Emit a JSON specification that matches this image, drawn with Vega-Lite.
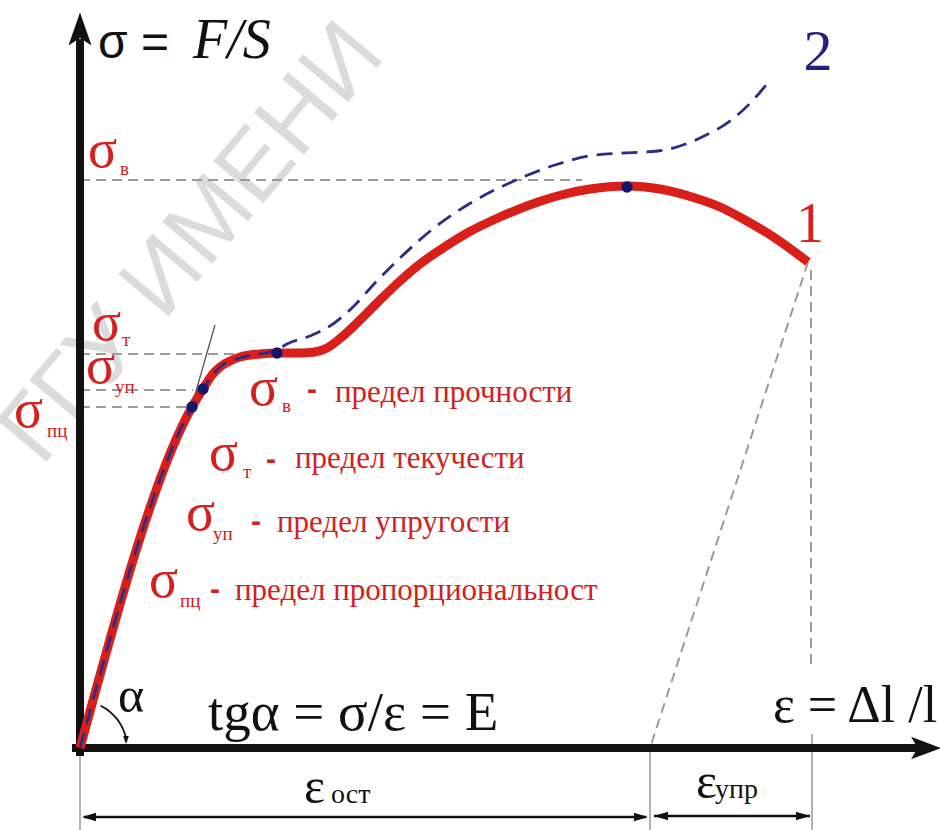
{
  "$schema": "https://vega.github.io/schema/vega-lite/v6.json",
  "width": 940,
  "height": 830,
  "autosize": {"type": "none"},
  "padding": 0,
  "background": "white",
  "config": {"view": {"stroke": null}},
  "datasets": {
    "red": [
      {"x": 0, "y": 0}, {"x": 112, "y": 341}, {"x": 123, "y": 359}, {"x": 132, "y": 373},
      {"x": 140, "y": 381}, {"x": 150, "y": 387}, {"x": 160, "y": 391}, {"x": 180, "y": 394},
      {"x": 197, "y": 395}, {"x": 220, "y": 395}, {"x": 235, "y": 396}, {"x": 247, "y": 400},
      {"x": 263, "y": 412}, {"x": 280, "y": 428}, {"x": 300, "y": 448}, {"x": 320, "y": 467},
      {"x": 340, "y": 484}, {"x": 360, "y": 498}, {"x": 389, "y": 516}, {"x": 420, "y": 531},
      {"x": 458, "y": 546}, {"x": 485, "y": 554}, {"x": 510, "y": 559}, {"x": 547, "y": 562},
      {"x": 580, "y": 559}, {"x": 612, "y": 551}, {"x": 640, "y": 541}, {"x": 665, "y": 528},
      {"x": 695, "y": 510}, {"x": 728, "y": 486}
    ],
    "blue": [
      {"x": 0, "y": 0}, {"x": 112, "y": 341}, {"x": 123, "y": 359}, {"x": 140, "y": 381},
      {"x": 160, "y": 390}, {"x": 180, "y": 394}, {"x": 197, "y": 398}, {"x": 207, "y": 404},
      {"x": 230, "y": 412}, {"x": 253, "y": 424}, {"x": 273, "y": 441}, {"x": 295, "y": 465},
      {"x": 320, "y": 490}, {"x": 354, "y": 520}, {"x": 389, "y": 544}, {"x": 434, "y": 567},
      {"x": 475, "y": 583}, {"x": 509, "y": 592}, {"x": 544, "y": 595}, {"x": 578, "y": 597},
      {"x": 620, "y": 610}, {"x": 654, "y": 630}, {"x": 675, "y": 650}, {"x": 690, "y": 668}
    ],
    "dots": [
      {"x": 112, "y": 341}, {"x": 123, "y": 359}, {"x": 197, "y": 395}, {"x": 547, "y": 561}
    ],
    "dashed": [
      {"x": 0, "y": 568, "x2": 502, "y2": 568},
      {"x": 0, "y": 394, "x2": 160, "y2": 394},
      {"x": 0, "y": 358, "x2": 113, "y2": 358},
      {"x": 0, "y": 341, "x2": 107, "y2": 341},
      {"x": 728, "y": 486, "x2": 570, "y2": 0},
      {"x": 731, "y": 478, "x2": 731, "y2": 78}
    ],
    "thin": [
      {"x": 0, "y": 0, "x2": 0, "y2": -82},
      {"x": 570, "y": 0, "x2": 570, "y2": -82},
      {"x": 732, "y": 14, "x2": 732, "y2": -82}
    ],
    "tangent": [
      {"x": 110, "y": 336, "x2": 135, "y2": 423}
    ],
    "axes": [
      {"x": 0, "y": -4, "x2": 0, "y2": 705},
      {"x": -4, "y": 0, "x2": 840, "y2": 0}
    ],
    "dims": [
      {"x": 4, "y": -69, "x2": 566, "y2": -69},
      {"x": 574, "y": -68, "x2": 730, "y2": -68}
    ],
    "headsL": [{"x": 9, "y": -69}, {"x": 581, "y": -68}],
    "headsR": [{"x": 561, "y": -69}, {"x": 723, "y": -68}],
    "arc": [
      {"x": 20.6, "y": 42.2}, {"x": 27.0, "y": 38.5}, {"x": 33.2, "y": 33.2}, {"x": 38.5, "y": 27.0},
      {"x": 42.6, "y": 19.9}, {"x": 45.4, "y": 12.2}, {"x": 46.5, "y": 6.5}
    ],
    "sigmas": [
      {"x": 8, "y": 581}, {"x": 12, "y": 408}, {"x": 6, "y": 365}, {"x": -66, "y": 321},
      {"x": 169, "y": 343}, {"x": 129, "y": 278}, {"x": 106, "y": 218}, {"x": 69, "y": 151}
    ],
    "subs": [
      {"x": 40, "y": 573, "t": "в"}, {"x": 42, "y": 402, "t": "т"}, {"x": 35, "y": 355, "t": "уп"},
      {"x": -33, "y": 311, "t": "пц"},
      {"x": 202, "y": 336, "t": "в"}, {"x": 163, "y": 270, "t": "т"}, {"x": 133, "y": 208, "t": "уп"},
      {"x": 100, "y": 141, "t": "пц"}
    ],
    "dashes": [
      {"x": 232, "y": 349}, {"x": 191, "y": 279}, {"x": 176, "y": 217}, {"x": 135, "y": 149}
    ],
    "legend": [
      {"x": 255, "y": 346, "t": "предел прочности"},
      {"x": 215, "y": 280, "t": "предел текучести"},
      {"x": 197, "y": 216, "t": "предел упругости"},
      {"x": 155, "y": 148, "t": "предел пропорциональности"}
    ],
    "epsBottom": [{"x": 224, "y": -55}, {"x": 616, "y": -50}],
    "epsSubs": [{"x": 251, "y": -55, "t": "ост"}, {"x": 635, "y": -50, "t": "упр"}]
  },
  "data": {"name": "red"},
  "encoding": {
    "x": {"field": "x", "type": "quantitative", "axis": null, "scale": {"domain": [-80, 860], "nice": false, "zero": false}},
    "y": {"field": "y", "type": "quantitative", "axis": null, "scale": {"domain": [-82, 748], "nice": false, "zero": false}}
  },
  "layer": [
    {
      "data": {"values": [{"x": 112, "y": 505, "t": "ГГУ ИМЕНИ"}]},
      "mark": {"type": "text", "angle": -50, "fontSize": 95, "font": "Liberation Sans", "color": "#c4c4c4", "opacity": 0.6, "align": "center", "baseline": "middle"},
      "encoding": {"text": {"field": "t"}}
    },
    {
      "data": {"name": "dashed"},
      "mark": {"type": "rule", "color": "#9a9a9a", "strokeWidth": 2, "strokeDash": [10, 6]},
      "encoding": {"x2": {"field": "x2"}, "y2": {"field": "y2"}}
    },
    {
      "data": {"name": "thin"},
      "mark": {"type": "rule", "color": "#8a8a8a", "strokeWidth": 1.3},
      "encoding": {"x2": {"field": "x2"}, "y2": {"field": "y2"}}
    },
    {
      "data": {"name": "tangent"},
      "mark": {"type": "rule", "color": "#555555", "strokeWidth": 1.3},
      "encoding": {"x2": {"field": "x2"}, "y2": {"field": "y2"}}
    },
    {
      "data": {"name": "axes"},
      "mark": {"type": "rule", "color": "#111111", "strokeWidth": 8, "strokeCap": "square"},
      "encoding": {"x2": {"field": "x2"}, "y2": {"field": "y2"}}
    },
    {
      "data": {"values": [{"x": 0, "y": 719}]},
      "mark": {"type": "point", "shape": "M0,-1L0.7,1L0,0.55L-0.7,1Z", "size": 1089, "filled": true, "color": "#111111", "opacity": 1}
    },
    {
      "data": {"values": [{"x": 846, "y": 0}]},
      "mark": {"type": "point", "shape": "M1,0L-1,0.75L-0.55,0L-1,-0.75Z", "size": 900, "filled": true, "color": "#111111", "opacity": 1}
    },
    {
      "data": {"name": "dims"},
      "mark": {"type": "rule", "color": "#111111", "strokeWidth": 2.5},
      "encoding": {"x2": {"field": "x2"}, "y2": {"field": "y2"}}
    },
    {
      "data": {"name": "headsL"},
      "mark": {"type": "point", "shape": "M-1,0L1,-0.6L1,0.6Z", "size": 196, "filled": true, "color": "#111111", "opacity": 1}
    },
    {
      "data": {"name": "headsR"},
      "mark": {"type": "point", "shape": "M1,0L-1,-0.6L-1,0.6Z", "size": 196, "filled": true, "color": "#111111", "opacity": 1}
    },
    {
      "data": {"name": "arc"},
      "mark": {"type": "line", "color": "#111111", "strokeWidth": 1.8, "interpolate": "monotone"}
    },
    {
      "data": {"values": [{"x": 46, "y": 8}]},
      "mark": {"type": "point", "shape": "M0,1L-0.7,-1L0.7,-1Z", "size": 64, "filled": true, "color": "#111111", "opacity": 1}
    },
    {
      "data": {"name": "red"},
      "mark": {"type": "line", "color": "#d91f1a", "strokeWidth": 9, "interpolate": "monotone", "strokeCap": "butt"}
    },
    {
      "data": {"name": "blue"},
      "mark": {"type": "line", "color": "#2c2c85", "strokeWidth": 2.8, "strokeDash": [16, 9], "interpolate": "monotone"}
    },
    {
      "data": {"name": "dots"},
      "mark": {"type": "point", "filled": true, "size": 130, "color": "#15156b", "opacity": 1}
    },
    {
      "data": {"values": [{"x": 18, "y": 690, "t": "σ ="}]},
      "mark": {"type": "text", "font": "Liberation Sans", "fontSize": 48, "color": "#111111", "align": "left", "baseline": "alphabetic"},
      "encoding": {"text": {"field": "t"}}
    },
    {
      "data": {"values": [{"x": 113, "y": 690, "t": "F/S"}]},
      "mark": {"type": "text", "font": "Liberation Serif", "fontStyle": "italic", "fontSize": 56, "color": "#111111", "align": "left", "baseline": "alphabetic"},
      "encoding": {"text": {"field": "t"}}
    },
    {
      "data": {"name": "sigmas"},
      "mark": {"type": "text", "text": "σ", "font": "Liberation Serif", "fontSize": 54, "color": "#d42020", "align": "left", "baseline": "alphabetic"}
    },
    {
      "data": {"name": "subs"},
      "mark": {"type": "text", "font": "Liberation Serif", "fontSize": 19, "color": "#d42020", "align": "left", "baseline": "alphabetic"},
      "encoding": {"text": {"field": "t"}}
    },
    {
      "data": {"name": "dashes"},
      "mark": {"type": "text", "text": "-", "font": "Liberation Sans", "fontWeight": "bold", "fontSize": 30, "color": "#d42020", "align": "center", "baseline": "alphabetic"}
    },
    {
      "data": {"name": "legend"},
      "mark": {"type": "text", "font": "Liberation Serif", "fontSize": 31, "color": "#d42020", "align": "left", "baseline": "alphabetic", "limit": 374, "ellipsis": "\u200b"},
      "encoding": {"text": {"field": "t"}}
    },
    {
      "data": {"values": [{"x": 730, "y": 506, "t": "1"}]},
      "mark": {"type": "text", "font": "Liberation Serif", "fontSize": 56, "color": "#d42020", "align": "center", "baseline": "alphabetic"},
      "encoding": {"text": {"field": "t"}}
    },
    {
      "data": {"values": [{"x": 738, "y": 678, "t": "2"}]},
      "mark": {"type": "text", "font": "Liberation Serif", "fontSize": 58, "color": "#23237a", "align": "center", "baseline": "alphabetic"},
      "encoding": {"text": {"field": "t"}}
    },
    {
      "data": {"values": [{"x": 38, "y": 36, "t": "α"}]},
      "mark": {"type": "text", "font": "Liberation Serif", "fontSize": 50, "color": "#111111", "align": "left", "baseline": "alphabetic"},
      "encoding": {"text": {"field": "t"}}
    },
    {
      "data": {"values": [{"x": 128, "y": 18, "t": "tgα =  σ/ε = E"}]},
      "mark": {"type": "text", "font": "Liberation Serif", "fontSize": 55, "color": "#111111", "align": "left", "baseline": "alphabetic"},
      "encoding": {"text": {"field": "t"}}
    },
    {
      "data": {"values": [{"x": 693, "y": 26, "t": "ε = Δl /l"}]},
      "mark": {"type": "text", "font": "Liberation Serif", "fontSize": 52, "color": "#111111", "align": "left", "baseline": "alphabetic"},
      "encoding": {"text": {"field": "t"}}
    },
    {
      "data": {"name": "epsBottom"},
      "mark": {"type": "text", "text": "ε", "font": "Liberation Serif", "fontSize": 50, "color": "#111111", "align": "left", "baseline": "alphabetic"}
    },
    {
      "data": {"name": "epsSubs"},
      "mark": {"type": "text", "font": "Liberation Serif", "fontSize": 28, "color": "#111111", "align": "left", "baseline": "alphabetic"},
      "encoding": {"text": {"field": "t"}}
    }
  ]
}
